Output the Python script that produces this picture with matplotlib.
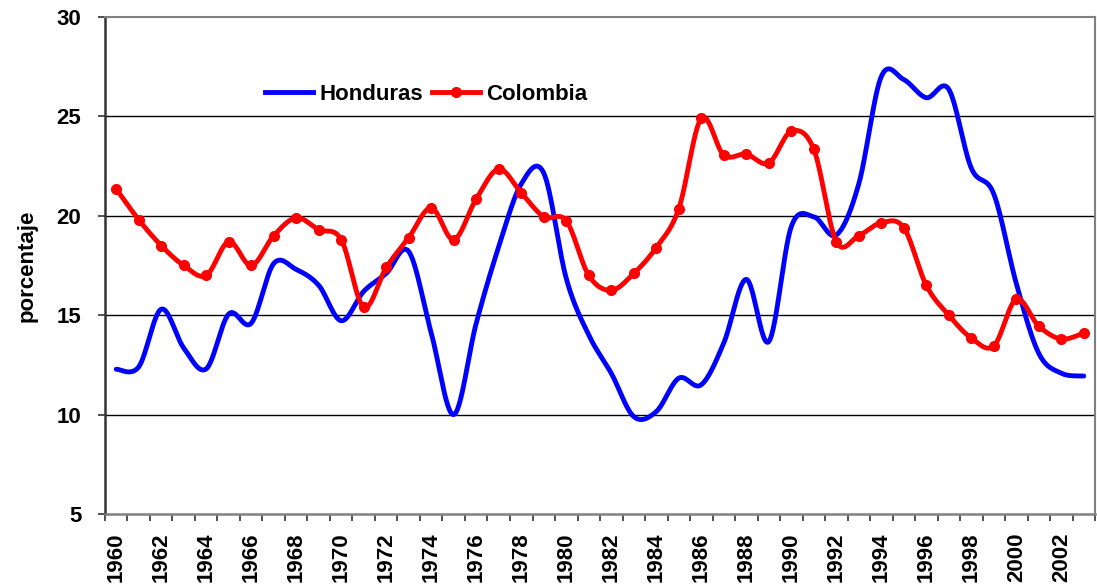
import numpy as np
import matplotlib.pyplot as plt
from matplotlib.lines import Line2D

years = list(range(1960, 2004))

honduras = [12.28, 12.4, 15.3, 13.35, 12.3, 15.06, 14.6, 17.6, 17.3, 16.5,
            14.72, 16.2, 17.1, 18.2, 14.1, 10.0, 14.6, 18.45, 21.6, 22.15,
            16.85, 14.0, 12.08, 9.9, 10.15, 11.83, 11.5, 13.6, 16.8, 13.67,
            19.45, 19.95, 19.03, 21.6, 27.0, 26.85, 25.94, 26.36, 22.4, 21.1,
            16.6, 13.08, 12.08, 11.94]

colombia = [21.35, 19.8, 18.5, 17.5, 17.0, 18.7, 17.5, 19.0, 19.9, 19.3,
            18.8, 15.4, 17.4, 18.9, 20.4, 18.8, 20.85, 22.35, 21.15, 19.95,
            19.75, 17.0, 16.25, 17.1, 18.4, 20.35, 24.9, 23.05, 23.1, 22.65,
            24.25, 23.35, 18.7, 19.0, 19.65, 19.4, 16.5, 15.0, 13.85, 13.45,
            15.8, 14.45, 13.8, 14.1]

yticks = [5, 10, 15, 20, 25, 30]


def smooth(x, y, n=30):
    # Excel-style smoothed line (Catmull-Rom through Bezier segments)
    x = np.asarray(x, float)
    y = np.asarray(y, float)
    px = np.concatenate([[x[0]], x, [x[-1]]])
    py = np.concatenate([[y[0]], y, [y[-1]]])
    t = np.linspace(0, 1, n)
    xs, ys = [], []
    for i in range(1, len(px) - 2):
        p0 = np.array([px[i], py[i]])
        p3 = np.array([px[i + 1], py[i + 1]])
        c1 = p0 + (p3 - np.array([px[i - 1], py[i - 1]])) / 6
        c2 = p3 - (np.array([px[i + 2], py[i + 2]]) - p0) / 6
        pts = ((1 - t) ** 3)[:, None] * p0 + (3 * (1 - t) ** 2 * t)[:, None] * c1 \
            + (3 * (1 - t) * t ** 2)[:, None] * c2 + (t ** 3)[:, None] * p3
        xs.append(pts[:, 0])
        ys.append(pts[:, 1])
    return np.concatenate(xs), np.concatenate(ys)


plt.rcParams['font.family'] = 'Liberation Sans'
plt.rcParams['font.weight'] = 'bold'

fig = plt.figure(figsize=(10.97, 5.85), dpi=100)
ax = fig.add_axes([0.0957, 0.1214, 0.9025, 0.8496])

idx = np.arange(len(years))

hx, hy = smooth(idx, honduras)
cx, cy = smooth(idx, colombia)

ax.plot(hx, hy, color='#0000ff', lw=3.5, solid_capstyle='round', zorder=3)
ax.plot(cx, cy, color='#ff0000', lw=3.5, solid_capstyle='round', zorder=4)
ax.plot(idx, colombia, ls='none', marker='o', ms=7, color='#ff0000', zorder=5)

ax.set_xlim(-0.5, len(years) - 0.5)
ax.set_ylim(5, 30)
ax.set_yticks(yticks)
ax.set_yticklabels([str(v) for v in yticks], fontsize=16, fontweight='bold')

ax.set_xticks(idx[::2])
ax.set_xticklabels([str(y) for y in years[::2]], rotation=90, fontsize=16, fontweight='bold')
ax.set_xticks(np.arange(-0.5, len(years)), minor=True)
ax.tick_params(axis='x', which='major', length=0, pad=13)
ax.tick_params(axis='x', which='minor', length=5, width=1.2, color='#333333')
ax.tick_params(axis='y', length=5, width=1.2, color='#333333', pad=12)

for v in yticks[1:-1]:
    ax.axhline(v, color='black', lw=1, zorder=1)

ax.spines['left'].set_color('#333333')
ax.spines['left'].set_linewidth(1.8)
ax.spines['bottom'].set_color('#808080')
ax.spines['bottom'].set_linewidth(1.8)
ax.spines['top'].set_color('#808080')
ax.spines['top'].set_linewidth(1.5)
ax.spines['right'].set_color('#808080')
ax.spines['right'].set_linewidth(1.5)

ax.set_ylabel('porcentaje', fontsize=16, fontweight='bold', labelpad=14)

handles = [Line2D([], [], color='#0000ff', lw=3.5),
           Line2D([], [], color='#ff0000', lw=3.5, marker='o', ms=7)]
ax.legend(handles, ['Honduras', 'Colombia'], loc='center left',
          bbox_to_anchor=(0.150, 0.845), ncol=2, frameon=False,
          handlelength=2.2, handletextpad=0.25, columnspacing=0.4,
          borderpad=0, prop={'size': 16, 'weight': 'bold'})

fig.savefig('out.png', dpi=100)
